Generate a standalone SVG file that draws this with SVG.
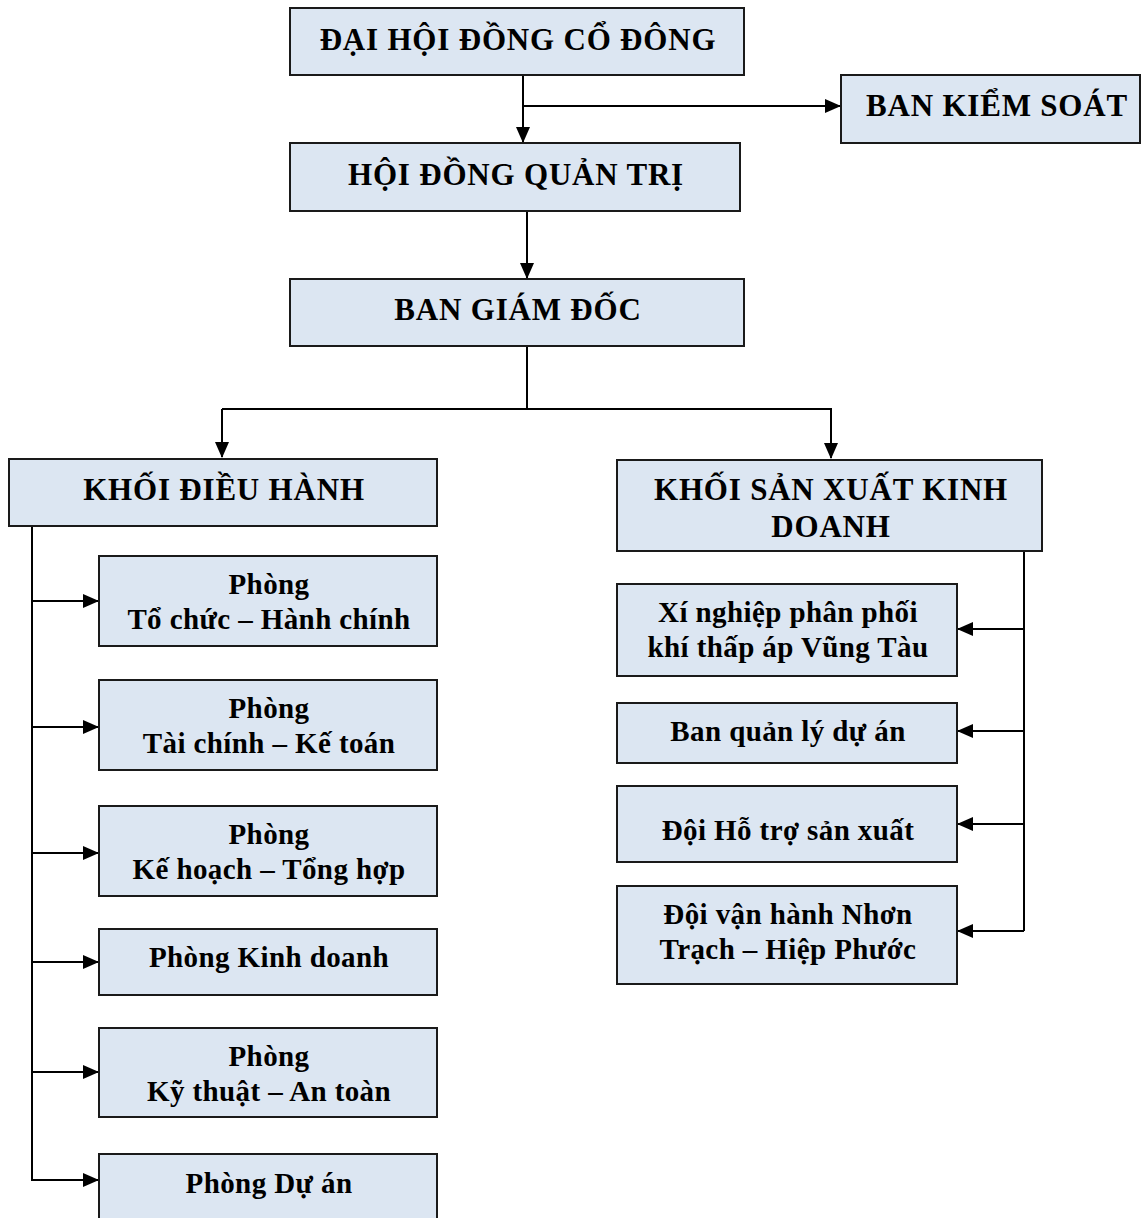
<svg xmlns="http://www.w3.org/2000/svg" width="1141" height="1218" viewBox="0 0 1141 1218">
<style>
.box{fill:#DCE6F2;stroke:#1a1a1a;stroke-width:2}
.h{font-family:"Liberation Serif","Times New Roman",serif;font-weight:bold;font-size:31px;letter-spacing:0.8px;text-anchor:middle;fill:#000}
.s{font-family:"Liberation Serif","Times New Roman",serif;font-weight:bold;font-size:29px;letter-spacing:0.4px;text-anchor:middle;fill:#000}
.c{fill:none;stroke:#000;stroke-width:2}
</style>
<defs>
<marker id="ar" markerUnits="userSpaceOnUse" markerWidth="16" markerHeight="14" refX="15" refY="7" orient="auto">
<path d="M0,0 L16,7 L0,14 Z" fill="#000"/>
</marker>
</defs>
<rect width="1141" height="1218" fill="#fff"/>
<g id="connectors">
<path class="c" d="M523,76 V142" marker-end="url(#ar)"/>
<path class="c" d="M523,106 H840" marker-end="url(#ar)"/>
<path class="c" d="M527,211 V278" marker-end="url(#ar)"/>
<path class="c" d="M527,346 V409"/>
<path class="c" d="M222,409 H832"/>
<path class="c" d="M222,409 V457" marker-end="url(#ar)"/>
<path class="c" d="M831,409 V458" marker-end="url(#ar)"/>
<path class="c" d="M32,526 V1180 H98" marker-end="url(#ar)"/>
<path class="c" d="M32,601 H98" marker-end="url(#ar)"/>
<path class="c" d="M32,727 H98" marker-end="url(#ar)"/>
<path class="c" d="M32,853 H98" marker-end="url(#ar)"/>
<path class="c" d="M32,962 H98" marker-end="url(#ar)"/>
<path class="c" d="M32,1072 H98" marker-end="url(#ar)"/>
<path class="c" d="M1024,551 V931"/>
<path class="c" d="M1024,629 H958" marker-end="url(#ar)"/>
<path class="c" d="M1024,731 H958" marker-end="url(#ar)"/>
<path class="c" d="M1024,824 H958" marker-end="url(#ar)"/>
<path class="c" d="M1024,931 H958" marker-end="url(#ar)"/>
</g>
<g id="dhdcd"><rect class="box" x="290" y="8" width="454" height="67"/><text class="h" x="518" y="50">ĐẠI HỘI ĐỒNG CỔ ĐÔNG</text></g>
<g id="bks"><rect class="box" x="841" y="75" width="299" height="68"/><text class="h" x="997" y="116">BAN KIỂM SOÁT</text></g>
<g id="hdqt"><rect class="box" x="290" y="143" width="450" height="68"/><text class="h" x="516" y="185">HỘI ĐỒNG QUẢN TRỊ</text></g>
<g id="bgd"><rect class="box" x="290" y="279" width="454" height="67"/><text class="h" x="518" y="320">BAN GIÁM ĐỐC</text></g>
<g id="kdh"><rect class="box" x="9" y="459" width="428" height="67"/><text class="h" x="224" y="500">KHỐI ĐIỀU HÀNH</text></g>
<g id="ksxkd"><rect class="box" x="617" y="460" width="425" height="91"/><text class="h" x="831" y="500">KHỐI SẢN XUẤT KINH</text><text class="h" x="831" y="537">DOANH</text></g>
<g id="p-tchc"><rect class="box" x="99" y="556" width="338" height="90"/><text class="s" x="269" y="594">Phòng</text><text class="s" x="269" y="629">Tổ chức – Hành chính</text></g>
<g id="p-tckt"><rect class="box" x="99" y="680" width="338" height="90"/><text class="s" x="269" y="718">Phòng</text><text class="s" x="269" y="753">Tài chính – Kế toán</text></g>
<g id="p-khth"><rect class="box" x="99" y="806" width="338" height="90"/><text class="s" x="269" y="844">Phòng</text><text class="s" x="269" y="879">Kế hoạch – Tổng hợp</text></g>
<g id="p-kd"><rect class="box" x="99" y="929" width="338" height="66"/><text class="s" x="269" y="967">Phòng Kinh doanh</text></g>
<g id="p-ktat"><rect class="box" x="99" y="1028" width="338" height="89"/><text class="s" x="269" y="1066">Phòng</text><text class="s" x="269" y="1101">Kỹ thuật – An toàn</text></g>
<g id="p-da"><rect class="box" x="99" y="1154" width="338" height="70"/><text class="s" x="269" y="1193">Phòng Dự án</text></g>
<g id="xn"><rect class="box" x="617" y="584" width="340" height="92"/><text class="s" x="788" y="622">Xí nghiệp phân phối</text><text class="s" x="788" y="657">khí thấp áp Vũng Tàu</text></g>
<g id="bqlda"><rect class="box" x="617" y="703" width="340" height="60"/><text class="s" x="788" y="741">Ban quản lý dự án</text></g>
<g id="dhtsx"><rect class="box" x="617" y="786" width="340" height="76"/><text class="s" x="788" y="840">Đội Hỗ trợ sản xuất</text></g>
<g id="dvh"><rect class="box" x="617" y="886" width="340" height="98"/><text class="s" x="788" y="924">Đội vận hành Nhơn</text><text class="s" x="788" y="959">Trạch – Hiệp Phước</text></g>
</svg>
